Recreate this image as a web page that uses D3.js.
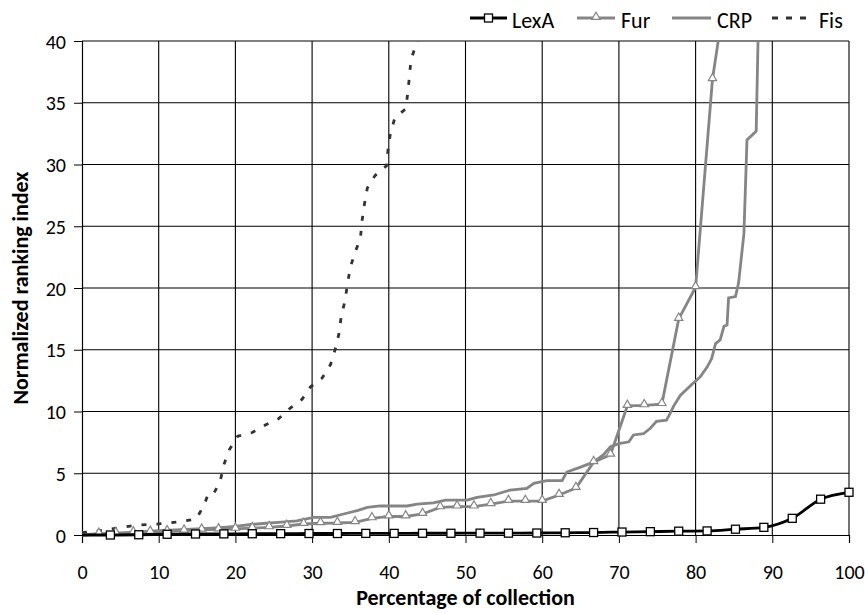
<!DOCTYPE html>
<html><head><meta charset="utf-8">
<script src="https://cdn.jsdelivr.net/npm/d3@7"></script>
<style>
body{margin:0;background:#fff;}
svg text{font-family:Carlito,Lato,"Open Sans",sans-serif;fill:#000;}
</style></head>
<body><svg id="c" width="865" height="613"></svg>
<script>
// ---- data ----
const xTicks = [0,10,20,30,40,50,60,70,80,90,100];
const yTicks = [0,5,10,15,20,25,30,35,40];
const seriesNames = ["LexA","Fur","CRP","Fis"];

const lexaX = [0,3.7,7.4,11.1,14.8,18.5,22.2,25.9,29.6,33.3,37.0,40.7,44.4,48.1,51.9,55.6,59.3,63.0,66.7,70.4,74.1,77.8,81.5,85.2,88.9,92.6,96.3,100];
const lexaY = [0,0.0,0.02,0.06,0.08,0.09,0.1,0.11,0.12,0.12,0.13,0.13,0.14,0.14,0.15,0.15,0.16,0.18,0.2,0.24,0.27,0.31,0.33,0.47,0.62,1.35,2.9,3.46];

const furX = [0,2.2,4.4,6.7,8.9,11.1,13.3,15.6,17.8,20.0,22.2,24.4,26.7,28.9,31.1,33.3,35.6,37.8,40.0,42.2,44.4,46.7,48.9,51.1,53.3,55.6,57.8,60.0,62.2,64.4,66.7,68.9,71.1,73.3,75.6,77.8,80.0,82.2,84.4];
const furY = [0,0.1,0.15,0.2,0.25,0.3,0.35,0.42,0.45,0.5,0.55,0.62,0.73,0.89,0.95,0.97,1.03,1.35,1.5,1.5,1.7,2.24,2.3,2.3,2.5,2.75,2.75,2.75,3.24,3.8,5.9,6.5,10.45,10.5,10.6,17.5,20.06,36.9,46];

const crpX = [0,5,10,15,18,20,22,24,26,28,30.2,32.4,34.5,36,37.2,38.9,42.4,43.7,45.8,47.4,50.2,51.5,53.7,55.8,58,58.9,60.6,62.6,63.2,65,66.7,68,68.9,70,71.3,71.9,73.2,74.1,74.9,76.2,76.7,77.1,78,79.7,80.6,81.5,82.1,82.6,83.2,83.7,84.1,84.3,85.2,85.6,86.3,86.7,87.4,87.9,88.3];
const crpY = [0,0.15,0.35,0.5,0.6,0.7,0.85,0.95,1.05,1.15,1.43,1.43,1.76,2.0,2.24,2.35,2.35,2.5,2.6,2.83,2.83,3.05,3.24,3.64,3.78,4.19,4.4,4.4,5.1,5.5,5.9,6.5,7.15,7.4,7.55,8.1,8.2,8.64,9.2,9.3,9.86,10.4,11.3,12.3,12.8,13.6,14.3,15.5,15.8,16.9,17,19.2,19.3,20.4,24.4,32,32.4,32.7,45];

const fisX = [0,1.1,3,5,7,9,11,13,14.9,15.9,16.5,17.2,18,18.5,19.2,20.3,22.2,23.9,25.6,27.2,28.7,29.8,31.3,32.4,33,33.5,33.8,34.3,34.6,35,35.6,36.3,36.5,36.8,37.2,38.2,39.7,39.9,40.2,40.8,42.2,42.5,42.7,42.9,43.6,44.4];
const fisY = [0.2,0.27,0.4,0.6,0.8,0.85,0.95,1.1,1.3,2.4,3.4,3.4,4.3,5.7,6.9,8.0,8.3,8.9,9.4,10.3,11,12,12.7,13.8,15,16.3,17.7,19,20.3,21.7,22.9,24.0,25.4,26.7,28.1,29.1,29.9,31.2,32.5,33.8,34.5,35.9,37.2,38.5,39.8,41.5];

// ---- layout ----
const svg = d3.select("#c");
const L = 82, R = 849, T = 41, B = 535;
const x = d3.scaleLinear().domain([0,100]).range([L,R]);
const y = d3.scaleLinear().domain([0,40]).range([B,T]);
const zip = (xs,ys) => xs.map((v,i)=>[v,ys[i]]);

// gridlines
svg.append("g").selectAll("line").data(yTicks.filter(d=>d>0)).join("line")
  .attr("x1",L).attr("x2",R).attr("y1",d=>y(d)).attr("y2",d=>y(d))
  .attr("stroke","#000").attr("stroke-width",1.1);
svg.append("g").selectAll("line").data(xTicks.filter(d=>d>0)).join("line")
  .attr("y1",T).attr("y2",B).attr("x1",d=>x(d)).attr("x2",d=>x(d))
  .attr("stroke","#000").attr("stroke-width",1.1);

// axes
const yAxis = d3.axisLeft(y).tickValues(yTicks).tickSize(8).tickPadding(8);
const gy = svg.append("g").attr("transform",`translate(${L},0)`).call(yAxis);
const xAxis = d3.axisBottom(x).tickValues(xTicks).tickSize(8).tickPadding(22);
const gx = svg.append("g").attr("transform",`translate(0,${B})`).call(xAxis);
[gy,gx].forEach(g=>{
  g.select(".domain").attr("stroke","#000").attr("stroke-width",1.2);
  g.selectAll(".tick line").attr("stroke","#000").attr("stroke-width",1);
  g.selectAll(".tick text").style("font-size","20px").attr("fill","#000");
});
gy.selectAll(".tick text").attr("dy","0.35em");

// clip
svg.append("clipPath").attr("id","clip").append("rect")
  .attr("x",L-10).attr("y",T).attr("width",R-L+20).attr("height",B-T+10);
const plot = svg.append("g").attr("clip-path","url(#clip)");

const lin = d3.line().x(d=>x(d[0])).y(d=>y(d[1]));
const smooth = d3.line().x(d=>x(d[0])).y(d=>y(d[1])).curve(d3.curveMonotoneX);

const gray = "#858585";
// Fis
plot.append("path").datum(zip(fisX,fisY)).attr("d",lin)
  .attr("fill","none").attr("stroke","#333").attr("stroke-width",2.8)
  .attr("stroke-dasharray","5,10");
// CRP
plot.append("path").datum(zip(crpX,crpY)).attr("d",lin)
  .attr("fill","none").attr("stroke",gray).attr("stroke-width",2.8);
// Fur
const furData = zip(furX,furY);
plot.append("path").datum(furData).attr("d",lin)
  .attr("fill","none").attr("stroke",gray).attr("stroke-width",2.8);
const tri = d3.symbol().type(d3.symbolTriangle).size(30);
plot.append("g").selectAll("path").data(furData.filter(d=>d[0]>0 && d[1]<=40)).join("path")
  .attr("d",tri).attr("transform",d=>`translate(${x(d[0])},${y(d[1])-1})`)
  .attr("fill","#fff").attr("stroke",gray).attr("stroke-width",1.2);
// LexA
const lexData = zip(lexaX,lexaY);
plot.append("path").datum(lexData).attr("d",smooth)
  .attr("fill","none").attr("stroke","#000").attr("stroke-width",2.8);
plot.append("g").selectAll("rect").data(lexData.filter(d=>d[0]>0)).join("rect")
  .attr("x",d=>x(d[0])-4).attr("y",d=>y(d[1])-4).attr("width",8).attr("height",8)
  .attr("fill","#fff").attr("stroke","#000").attr("stroke-width",1.3);

// axis titles
svg.append("text").attr("x",(L+R)/2).attr("y",605).attr("text-anchor","middle")
  .style("font-size","22px").style("font-weight","bold").text("Percentage of collection");
svg.append("text").attr("transform",`translate(28,${(T+B)/2}) rotate(-90)`)
  .attr("text-anchor","middle")
  .style("font-size","22px").style("font-weight","bold").text("Normalized ranking index");

// legend
const leg = [
  {name:seriesNames[0], x0:470, x1:507, tx:512, color:"#000", dash:null, mark:"sq"},
  {name:seriesNames[1], x0:577, x1:615, tx:621, color:gray, dash:null, mark:"tri"},
  {name:seriesNames[2], x0:672, x1:711, tx:717, color:gray, dash:null, mark:null},
  {name:seriesNames[3], x0:772, x1:810, tx:819, color:"#333", dash:"6,8", mark:null}
];
const ly = 18;
leg.forEach(l=>{
  svg.append("line").attr("x1",l.x0).attr("x2",l.x1).attr("y1",ly).attr("y2",ly)
    .attr("stroke",l.color).attr("stroke-width",2.8).attr("stroke-dasharray",l.dash);
  const cx=(l.x0+l.x1)/2;
  if(l.mark==="sq") svg.append("rect").attr("x",cx-4).attr("y",ly-4).attr("width",8).attr("height",8)
    .attr("fill","#fff").attr("stroke","#000").attr("stroke-width",1.3);
  if(l.mark==="tri") svg.append("path").attr("d",tri).attr("transform",`translate(${cx},${ly-1})`)
    .attr("fill","#fff").attr("stroke",gray).attr("stroke-width",1.2);
  svg.append("text").attr("x",l.tx).attr("y",ly+2).attr("dy","0.35em")
    .style("font-size","22px").text(l.name);
});
</script></body></html>
